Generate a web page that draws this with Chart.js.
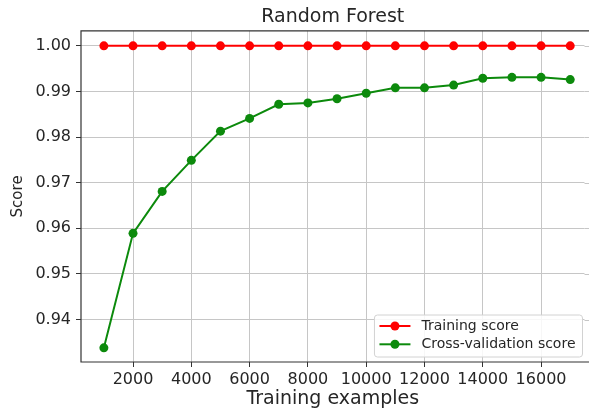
<!DOCTYPE html>
<html>
<head>
<meta charset="utf-8">
<script src="https://cdn.jsdelivr.net/npm/chart.js@4.4.1/dist/chart.umd.min.js"></script>
<style>
  html, body { margin: 0; padding: 0; background: #fff; overflow: hidden; }
</style>
</head>
<body>
<canvas id="lc" width="589" height="410"></canvas>
<script>
// learning curve values
var trainSizes = [1000, 2000, 3000, 4000, 5000, 6000, 7000, 8000, 9000, 10000, 11000, 12000, 13000, 14000, 15000, 16000, 17000];
var trainScores = [1.0, 1.0, 1.0, 1.0, 1.0, 1.0, 1.0, 1.0, 1.0, 1.0, 1.0, 1.0, 1.0, 1.0, 1.0, 1.0, 1.0];
var cvScores = [0.9338, 0.9589, 0.9681, 0.9749, 0.9813, 0.9841, 0.9872, 0.9875, 0.9884, 0.9896, 0.9908, 0.9908, 0.9914, 0.9929, 0.9931, 0.9931, 0.9926];
var xTicks = [2000, 4000, 6000, 8000, 10000, 12000, 14000, 16000];
var yTicks = [0.94, 0.95, 0.96, 0.97, 0.98, 0.99, 1.00];

var FONT = '"DejaVu Sans", sans-serif';
var INK = '#262626';
var GRID = '#c6c6c6';

function points(xs, ys) {
    return xs.map(function (x, i) { return { x: x, y: ys[i] }; });
}

// spines; the axes run off the right edge of the picture, so the
// horizontal grid lines and spines are carried on to the canvas edge
var frame = {
    id: 'frame',
    beforeDatasetsDraw: function (chart) {
        var a = chart.chartArea, ctx = chart.ctx, y = chart.scales.y;
        ctx.save();
        ctx.strokeStyle = GRID;
        ctx.lineWidth = 1;
        yTicks.forEach(function (v) {
            var py = Math.round(y.getPixelForValue(v)) + 0.5;
            ctx.beginPath();
            ctx.moveTo(a.right, py);
            ctx.lineTo(chart.width, py);
            ctx.stroke();
        });
        ctx.restore();
    },
    afterDatasetsDraw: function (chart) {
        var a = chart.chartArea, ctx = chart.ctx;
        ctx.save();
        ctx.strokeStyle = '#333';
        ctx.lineWidth = 1.2;
        ctx.beginPath();
        ctx.moveTo(chart.width, a.top);
        ctx.lineTo(a.left, a.top);
        ctx.lineTo(a.left, a.bottom);
        ctx.lineTo(chart.width, a.bottom);
        ctx.stroke();
        ctx.restore();
    }
};

// legend box in the lower right corner of the axes
var legendBox = {
    id: 'legendBox',
    afterDraw: function (chart) {
        var ctx = chart.ctx, a = chart.chartArea;
        var sets = chart.data.datasets;
        ctx.save();
        ctx.font = '14px ' + FONT;
        var textW = 0;
        sets.forEach(function (d) { textW = Math.max(textW, ctx.measureText(d.label).width); });
        var w = 47 + textW + 7, h = 42;
        var right = a.right - 2, bottom = a.bottom - 5;
        var left = right - w, top = bottom - h;

        ctx.beginPath();
        ctx.roundRect(left, top, w, h, 3);
        ctx.fillStyle = 'rgba(255,255,255,0.85)';
        ctx.fill();
        ctx.strokeStyle = '#d2d2d2';
        ctx.lineWidth = 1;
        ctx.stroke();

        sets.forEach(function (d, i) {
            var y = top + 11 + i * 18.3;
            ctx.strokeStyle = d.borderColor;
            ctx.lineWidth = 2;
            ctx.beginPath();
            ctx.moveTo(left + 5, y);
            ctx.lineTo(left + 36, y);
            ctx.stroke();
            ctx.fillStyle = d.pointBackgroundColor;
            ctx.beginPath();
            ctx.arc(left + 20.5, y, 4.5, 0, Math.PI * 2);
            ctx.fill();
            ctx.fillStyle = INK;
            ctx.textBaseline = 'middle';
            ctx.textAlign = 'left';
            ctx.fillText(d.label, left + 47, y + 0.5);
        });
        ctx.restore();
    }
};

var ctx = document.getElementById('lc');
var chart = new Chart(ctx, {
    type: 'line',
    data: {
        datasets: [
            {
                label: 'Training score',
                data: points(trainSizes, trainScores),
                borderColor: '#ff0000',
                backgroundColor: '#ff0000',
                pointBackgroundColor: '#ff0000',
                pointBorderWidth: 0,
                pointRadius: 4.5,
                borderWidth: 2,
                tension: 0
            },
            {
                label: 'Cross-validation score',
                data: points(trainSizes, cvScores),
                borderColor: '#0c8a0c',
                backgroundColor: '#0c8a0c',
                pointBackgroundColor: '#0c8a0c',
                pointBorderWidth: 0,
                pointRadius: 4.5,
                borderWidth: 2,
                tension: 0
            }
        ]
    },
    options: {
        responsive: false,
        animation: false,
        events: [],
        layout: { padding: 0 },
        plugins: {
            legend: { display: false },
            tooltip: { enabled: false },
            title: {
                display: true,
                fullSize: false,
                text: 'Random Forest',
                color: INK,
                font: { family: FONT, size: 19, weight: 'normal' },
                padding: { top: 6, bottom: 2 }
            }
        },
        scales: {
            x: {
                type: 'linear',
                min: 215,
                max: 17490,
                afterFit: function (s) {
                    s.height = 48;
                    s.paddingLeft = 0;
                    s.paddingRight = 0;
                },
                afterBuildTicks: function (s) { s.ticks = xTicks.map(function (v) { return { value: v }; }); },
                ticks: {
                    color: INK,
                    font: { family: FONT, size: 16 },
                    padding: 3,
                    maxRotation: 0,
                    autoSkip: false,
                    callback: function (v) { return String(v); }
                },
                grid: { color: GRID, lineWidth: 1, tickLength: 5, tickColor: '#333', drawTicks: true },
                border: { display: false },
                title: {
                    display: true,
                    text: 'Training examples',
                    color: INK,
                    font: { family: FONT, size: 19 },
                    padding: { top: 0, bottom: 0 }
                }
            },
            y: {
                type: 'linear',
                min: 0.9307,
                max: 1.0033,
                afterFit: function (s) { s.width = 81; },
                afterBuildTicks: function (s) { s.ticks = yTicks.map(function (v) { return { value: v }; }); },
                ticks: {
                    color: INK,
                    font: { family: FONT, size: 16 },
                    padding: 5,
                    autoSkip: false,
                    callback: function (v) { return v.toFixed(2); }
                },
                grid: { color: GRID, lineWidth: 1, tickLength: 5, tickColor: '#333', drawTicks: true },
                border: { display: false },
                title: {
                    display: true,
                    text: 'Score',
                    color: INK,
                    font: { family: FONT, size: 15 },
                    padding: { top: 9, bottom: 0 }
                }
            }
        }
    },
    plugins: [frame, legendBox]
});
</script>
</body>
</html>
